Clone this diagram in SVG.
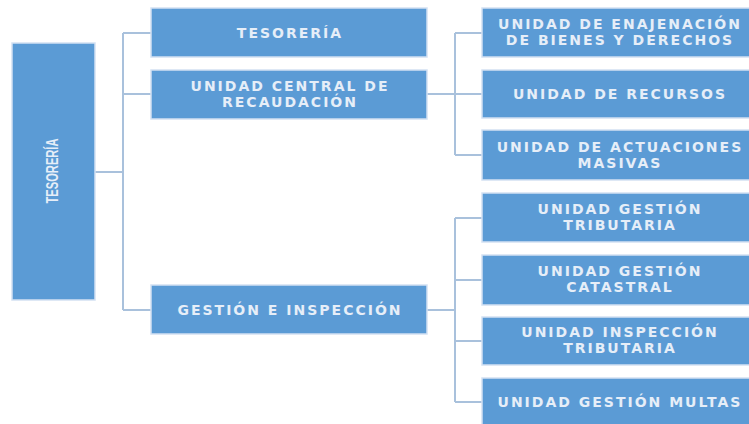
<svg xmlns="http://www.w3.org/2000/svg" width="749" height="424" viewBox="0 0 749 424">
<style>
.box{fill:#5b9bd5;stroke:#d3e1f2;stroke-width:1.5}
.t{font-family:"DejaVu Sans",sans-serif;font-weight:bold;font-size:14px;letter-spacing:2px;fill:#e6eef8;text-anchor:middle}
.c{fill:none;stroke:#a9c1dc;stroke-width:2}
</style>
<rect width="749" height="424" fill="#ffffff"/>
<g id="connectors">
<path class="c" d="M95 172H123M123 33V310M123 33H151M123 94H151M123 310H151"/>
<path class="c" d="M427 94H455M455 33V155M455 33H482M455 94H482M455 155H482"/>
<path class="c" d="M427 310H455M455 218V402M455 218H482M455 280H482M455 341H482M455 402H482"/>
</g>
<g id="root">
<rect class="box" x="12" y="43" width="83" height="257"/>
<text transform="translate(58 171) rotate(-90)" font-family="Liberation Sans,sans-serif" font-weight="bold" font-size="16" fill="#e6eef8" text-anchor="middle" textLength="65" lengthAdjust="spacingAndGlyphs">TESORERÍA</text>
</g>
<g id="tesoreria">
<rect class="box" x="151" y="8" width="276" height="49"/>
<text class="t" x="290" y="38">TESORERÍA</text>
</g>
<g id="ucr">
<rect class="box" x="151" y="70" width="276" height="49"/>
<text class="t" x="290" y="91">UNIDAD CENTRAL DE</text>
<text class="t" x="290" y="107">RECAUDACIÓN</text>
</g>
<g id="gestion">
<rect class="box" x="151" y="285" width="276" height="49"/>
<text class="t" x="290" y="315">GESTIÓN E INSPECCIÓN</text>
</g>
<g id="enajenacion">
<rect class="box" x="482" y="8" width="276" height="49"/>
<text class="t" x="620" y="29">UNIDAD DE ENAJENACIÓN</text>
<text class="t" x="620" y="45">DE BIENES Y DERECHOS</text>
</g>
<g id="recursos">
<rect class="box" x="482" y="70" width="276" height="48"/>
<text class="t" x="620" y="99">UNIDAD DE RECURSOS</text>
</g>
<g id="actuaciones">
<rect class="box" x="482" y="130" width="276" height="50"/>
<text class="t" x="620" y="152">UNIDAD DE ACTUACIONES</text>
<text class="t" x="620" y="168">MASIVAS</text>
</g>
<g id="gtributaria">
<rect class="box" x="482" y="193" width="276" height="49"/>
<text class="t" x="620" y="214">UNIDAD GESTIÓN</text>
<text class="t" x="620" y="230">TRIBUTARIA</text>
</g>
<g id="catastral">
<rect class="box" x="482" y="255" width="276" height="50"/>
<text class="t" x="620" y="276">UNIDAD GESTIÓN</text>
<text class="t" x="620" y="292">CATASTRAL</text>
</g>
<g id="itributaria">
<rect class="box" x="482" y="317" width="276" height="48"/>
<text class="t" x="620" y="337">UNIDAD INSPECCIÓN</text>
<text class="t" x="620" y="353">TRIBUTARIA</text>
</g>
<g id="multas">
<rect class="box" x="482" y="378" width="276" height="52"/>
<text class="t" x="620" y="407">UNIDAD GESTIÓN MULTAS</text>
</g>
</svg>
